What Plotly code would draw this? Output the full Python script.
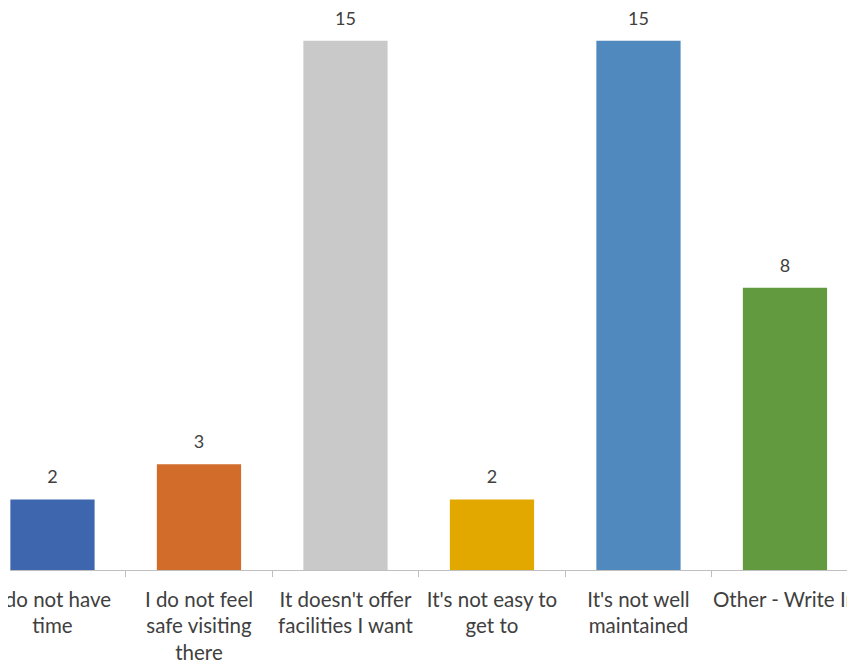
import plotly.graph_objects as go

categories = ["I do not have<br>time", "I do not feel<br>safe visiting<br>there",
              "It doesn't offer<br>facilities I want", "It's not easy to<br>get to",
              "It's not well<br>maintained", "Other - Write In"]
values = [2, 3, 15, 2, 15, 8]
colors = ["#3D66AF", "#D26C2B", "#C9C9C9", "#E2A800", "#4F89BD", "#629A40"]

label_pad = 0.33  # data-unit gap between bar top and its value label

fig = go.Figure()
fig.add_trace(go.Bar(x=categories, y=values, marker=dict(color=colors, line=dict(width=0)),
                     width=0.575, hoverinfo="skip"))
fig.add_trace(go.Scatter(x=categories, y=[v + label_pad for v in values], mode="text",
                         text=[str(v) for v in values], textposition="top center",
                         textfont=dict(family="Lato", size=18, color="#404040"),
                         cliponaxis=False, hoverinfo="skip"))

fig.update_layout(
    width=847, height=654,
    margin=dict(l=2, r=0, t=0, b=92),
    plot_bgcolor="white", paper_bgcolor="white",
    showlegend=False,
    xaxis=dict(type="category", range=[-0.29, 5.478], automargin=False,
               showline=True, linecolor="#BFBFBF", linewidth=1,
               ticks="outside", tickson="boundaries", ticklen=6, tickcolor="#BFBFBF",
               ticklabelstandoff=11, ticklabeloverflow="allow", tickangle=0,
               showgrid=False, zeroline=False,
               tickfont=dict(family="Lato", size=20.5, color="#404040")),
    yaxis=dict(range=[0, 15.93], visible=False, showgrid=False, zeroline=False,
               automargin=False),
)

fig.write_html("out.html")
